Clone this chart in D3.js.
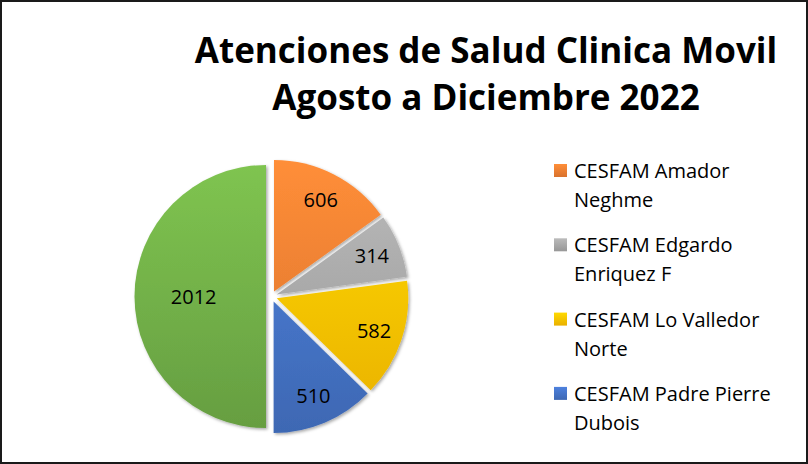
<!DOCTYPE html>
<html>
<head>
<meta charset="utf-8">
<script src="https://cdn.jsdelivr.net/npm/d3@7"></script>
<style>
  body { margin: 0; background: #fff; }
  text { font-family: "Open Sans", "Noto Sans", sans-serif; fill: #000; }
</style>
</head>
<body>
<div id="chart"></div>
<script>
const w = 808,
    h = 464;

// data
const categories = ["CESFAM Amador Neghme", "CESFAM Edgardo Enriquez F", "CESFAM Lo Valledor Norte", "CESFAM Padre Pierre Dubois", ""];
const values = [606, 314, 582, 510, 2012];
const colors = ["#ED7D31", "#A5A5A5", "#FFC000", "#4472C4", "#70AD47"];
const titleLines = ["Atenciones de Salud Clinica Movil", "Agosto a Diciembre 2022"];
// legend is cut off after four rows in the original
const legendRows = [["CESFAM Amador", "Neghme"], ["CESFAM Edgardo", "Enriquez F"], ["CESFAM Lo Valledor", "Norte"], ["CESFAM Padre Pierre", "Dubois"]];

const data = values.map(function (v, i) { return { name: categories[i], value: v, color: colors[i] }; });

const svg = d3.select("#chart")
    .append("svg")
    .attr("width", w)
    .attr("height", h);

const defs = svg.append("defs");

svg.append("rect")
    .attr("x", 1).attr("y", 1)
    .attr("width", w - 2).attr("height", h - 2)
    .attr("fill", "#fff")
    .attr("stroke", "#1a1a1a")
    .attr("stroke-width", 2);

// title
svg.selectAll(".title")
    .data(titleLines)
    .enter()
    .append("text")
    .attr("class", "title")
    .attr("x", 486)
    .attr("y", function (d, i) { return 63 + i * 47; })
    .attr("text-anchor", "middle")
    .style("font-weight", "bold")
    .style("font-size", "35px")
    .text(function (d) { return d; });

// pie
const r = 131.5,
    cx = 271.5,
    cy = 296.5,
    explode = 5.5;

const pie = d3.pie().sort(null).value(function (d) { return d.value; });
const arc = d3.arc().innerRadius(0).outerRadius(r);

const filter = defs.append("filter").attr("id", "shadow")
    .attr("x", "-20%").attr("y", "-20%").attr("width", "140%").attr("height", "140%");
filter.append("feDropShadow")
    .attr("dx", 1.5).attr("dy", 1.5)
    .attr("stdDeviation", 1.5)
    .attr("flood-color", "#000")
    .attr("flood-opacity", 0.35);

data.forEach(function (d, i) {
    const g = defs.append("linearGradient")
        .attr("id", "grad" + i)
        .attr("gradientUnits", "userSpaceOnUse")
        .attr("x1", 0).attr("y1", -r).attr("x2", 0).attr("y2", r);
    g.append("stop").attr("offset", "0%").attr("stop-color", d3.color(d.color).brighter(0.35));
    g.append("stop").attr("offset", "100%").attr("stop-color", d3.color(d.color).darker(0.25));
});

const arcs = pie(data);

function offset(d) {
    const mid = (d.startAngle + d.endAngle) / 2;
    return [Math.sin(mid) * explode, -Math.cos(mid) * explode];
}

const slices = svg.append("g")
    .attr("transform", "translate(" + cx + "," + cy + ")")
    .selectAll(".slice")
    .data(arcs)
    .enter()
    .append("g")
    .attr("class", "slice")
    .attr("transform", function (d) { const o = offset(d); return "translate(" + o[0] + "," + o[1] + ")"; });

slices.append("path")
    .attr("d", arc)
    .attr("fill", function (d, i) { return "url(#grad" + i + ")"; })
    .attr("filter", "url(#shadow)");

slices.append("text")
    .attr("transform", function (d) {
        const mid = (d.startAngle + d.endAngle) / 2;
        const k = (d.endAngle - d.startAngle) > Math.PI / 2 ? 0.55 : 0.78;
        return "translate(" + (Math.sin(mid) * r * k) + "," + (-Math.cos(mid) * r * k) + ")";
    })
    .attr("text-anchor", "middle")
    .attr("dy", "0.35em")
    .style("font-size", "20px")
    .text(function (d) { return d.data.value; });

// legend
data.slice(0, 4).forEach(function (d, i) {
    const g = defs.append("linearGradient")
        .attr("id", "lg" + i)
        .attr("x1", 0).attr("y1", 0).attr("x2", 0).attr("y2", 1);
    g.append("stop").attr("offset", "0%").attr("stop-color", d3.color(d.color).brighter(0.35));
    g.append("stop").attr("offset", "100%").attr("stop-color", d3.color(d.color).darker(0.25));
});

const legend = svg.selectAll(".legend")
    .data(legendRows)
    .enter()
    .append("g")
    .attr("class", "legend")
    .attr("transform", function (d, i) { return "translate(554," + (171 + i * 74.3) + ")"; });

legend.append("rect")
    .attr("x", 0).attr("y", -7)
    .attr("width", 13).attr("height", 13)
    .attr("fill", function (d, i) { return "url(#lg" + i + ")"; });

legend.selectAll("text")
    .data(function (d) { return d; })
    .enter()
    .append("text")
    .attr("x", 20)
    .attr("y", function (d, i) { return i * 29; })
    .attr("dy", "0.35em")
    .style("font-size", "20px")
    .text(function (d) { return d; });
</script>
</body>
</html>
